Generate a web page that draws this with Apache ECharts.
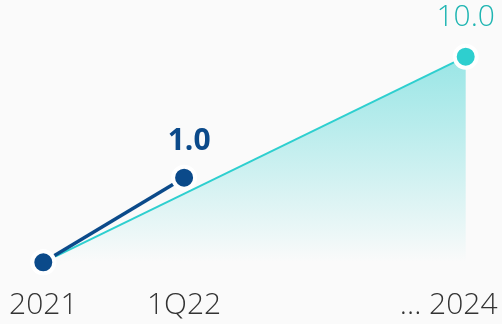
<!DOCTYPE html>
<html>
<head>
<meta charset="utf-8">
<script src="https://cdn.jsdelivr.net/npm/echarts@6/dist/echarts.min.js"></script>
<style>
  html, body { margin: 0; padding: 0; background: #fafafa; }
  #chart { width: 502px; height: 324px; }
</style>
</head>
<body>
<div id="chart"></div>
<script>
// Period labels along the bottom (the empty slot keeps 2024 further out)
const periods = ['2021', '1Q22', '', '2024'];
const tickLabels = ['2021', '1Q22', '', '... 2024'];
// Short-term path: 2021 -> 1Q22
const nearTerm = [0.2, 1.0, '-', '-'];
// Long-term path: 2021 -> 2024
const longTerm = [0.2, '-', '-', 10.0];

const DARK = '#0b4a8a';
const TEAL = '#2ecfcf';
const FONT = 'Open Sans';

function withEndLabel(values, idx) {
  return values.map((v, i) => i === idx ? { value: v, label: { show: true } } : v);
}

const chart = echarts.init(document.getElementById('chart'));
chart.setOption({
  backgroundColor: '#fafafa',
  animation: false,
  grid: { left: 43.3, right: 36.3, top: 20.3, bottom: 61.7 },
  xAxis: {
    type: 'category',
    data: periods,
    boundaryGap: false,
    axisLine: { show: false },
    axisTick: { show: false },
    splitLine: { show: false },
    axisLabel: {
      margin: 28,
      interval: 0,
      color: '#333333',
      fontFamily: FONT,
      fontWeight: 300,
      fontSize: 30,
      formatter: (v, i) => i === 3 ? '{last|' + tickLabels[i] + '}' : tickLabels[i],
      rich: {
        last: {
          fontFamily: FONT, fontWeight: 300, fontSize: 30, color: '#333333',
          padding: [0, 34, 0, 0]
        }
      }
    }
  },
  yAxis: {
    type: 'log',
    min: 0.2,
    max: 20,
    show: false,
    splitLine: { show: false }
  },
  series: [
    {
      type: 'line',
      data: withEndLabel(longTerm, 3),
      connectNulls: true,
      z: 2,
      symbol: 'circle',
      symbolSize: 22,
      itemStyle: { color: TEAL, borderColor: '#ffffff', borderWidth: 4 },
      lineStyle: { color: TEAL, width: 2 },
      areaStyle: {
        origin: 'start',
        color: new echarts.graphic.LinearGradient(0, 0, 0, 1, [
          { offset: 0, color: 'rgba(46,207,207,0.68)' },
          { offset: 0.35, color: 'rgba(46,207,207,0.45)' },
          { offset: 1, color: 'rgba(46,207,207,0)' }
        ])
      },
      label: {
        show: false,
        position: 'top',
        distance: 11,
        color: '#1fb5b2',
        fontFamily: FONT,
        fontWeight: 300,
        fontSize: 30,
        formatter: p => Number(p.value).toFixed(1)
      }
    },
    {
      type: 'line',
      data: withEndLabel(nearTerm, 1),
      z: 3,
      symbol: 'circle',
      symbolSize: 22,
      itemStyle: { color: DARK, borderColor: '#ffffff', borderWidth: 4 },
      lineStyle: { color: DARK, width: 3.5 },
      label: {
        show: false,
        position: 'top',
        distance: 8,
        offset: [5, 0],
        color: DARK,
        fontFamily: FONT,
        fontWeight: 700,
        fontSize: 30,
        formatter: p => Number(p.value).toFixed(1)
      }
    }
  ]
});
</script>
</body>
</html>
